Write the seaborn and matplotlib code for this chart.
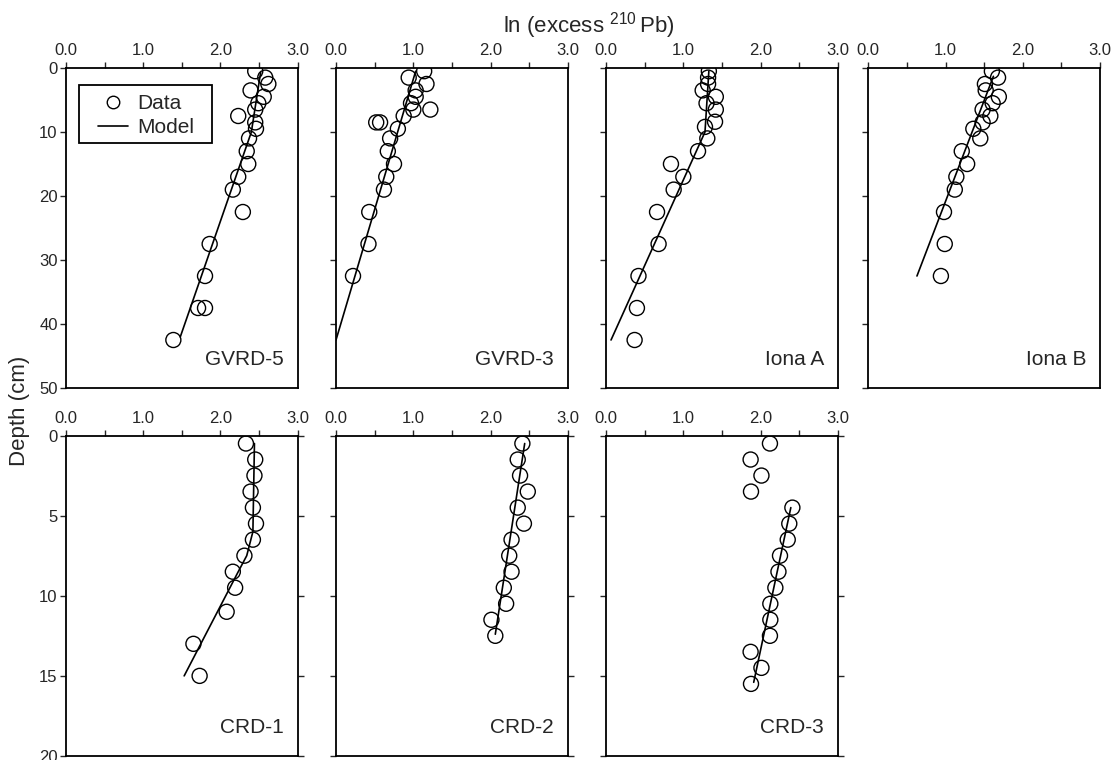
import matplotlib
matplotlib.use("Agg")
import matplotlib.pyplot as plt
from matplotlib.lines import Line2D
from matplotlib.patches import Rectangle
import seaborn as sns

# 1. DATA
# top row cores, depth in cm, ln(excess 210Pb)
gvrd5_depth = [0.5, 1.5, 2.5, 3.5, 4.5, 5.5, 6.5, 7.5, 8.5, 9.5, 11, 13, 15, 17, 19, 22.5, 27.5, 32.5, 37.5, 37.5, 42.5]
gvrd5_lnpb = [2.45, 2.58, 2.62, 2.39, 2.56, 2.49, 2.45, 2.23, 2.45, 2.46, 2.37, 2.34, 2.36, 2.23, 2.16, 2.29, 1.86, 1.80, 1.71, 1.80, 1.39]
gvrd5_model_depth = [0.7, 10, 42]
gvrd5_model_lnpb = [2.52, 2.40, 1.48]

gvrd3_depth = [0.5, 1.5, 2.5, 3.5, 4.5, 5.5, 6.5, 6.5, 7.5, 8.5, 8.5, 9.5, 11, 13, 15, 17, 19, 22.5, 27.5, 32.5]
gvrd3_lnpb = [1.14, 0.94, 1.17, 1.03, 1.03, 0.97, 1.00, 1.22, 0.875, 0.52, 0.57, 0.80, 0.70, 0.67, 0.75, 0.65, 0.62, 0.43, 0.42, 0.22]
gvrd3_model_depth = [0.5, 42.5]
gvrd3_model_lnpb = [1.03, 0.0]

ionaa_depth = [0.5, 1.5, 2.5, 3.5, 4.5, 5.5, 6.5, 8.4, 9.2, 11, 13, 15, 17, 19, 22.5, 27.5, 32.5, 37.5, 42.5]
ionaa_lnpb = [1.33, 1.32, 1.32, 1.25, 1.42, 1.30, 1.42, 1.41, 1.28, 1.31, 1.19, 0.84, 1.00, 0.875, 0.66, 0.68, 0.42, 0.40, 0.37]
ionaa_model_depth = [0.5, 10, 42.5]
ionaa_model_lnpb = [1.33, 1.28, 0.065]

ionab_depth = [0.5, 1.5, 2.5, 3.5, 4.5, 5.5, 6.5, 7.5, 8.5, 9.5, 11, 13, 15, 17, 19, 22.5, 27.5, 32.5]
ionab_lnpb = [1.60, 1.68, 1.51, 1.52, 1.69, 1.61, 1.48, 1.58, 1.48, 1.36, 1.45, 1.21, 1.28, 1.14, 1.12, 0.98, 0.99, 0.94]
ionab_model_depth = [1.3, 32.5]
ionab_model_lnpb = [1.62, 0.63]

# bottom row cores
crd1_depth = [0.5, 1.5, 2.5, 3.5, 4.5, 5.5, 6.5, 7.5, 8.5, 9.5, 11, 13, 15]
crd1_lnpb = [2.33, 2.45, 2.44, 2.39, 2.42, 2.46, 2.42, 2.31, 2.16, 2.19, 2.08, 1.65, 1.73]
crd1_model_depth = [0.5, 6.0, 7.5, 8.5, 15]
crd1_model_lnpb = [2.44, 2.42, 2.34, 2.23, 1.53]

crd2_depth = [0.5, 1.5, 2.5, 3.5, 4.5, 5.5, 6.5, 7.5, 8.5, 9.5, 10.5, 11.5, 12.5]
crd2_lnpb = [2.41, 2.35, 2.38, 2.48, 2.35, 2.43, 2.27, 2.24, 2.27, 2.17, 2.20, 2.01, 2.06]
crd2_model_depth = [0.5, 12.4]
crd2_model_lnpb = [2.44, 2.06]

crd3_depth = [0.5, 1.5, 2.5, 3.5, 4.5, 5.5, 6.5, 7.5, 8.5, 9.5, 10.5, 11.5, 12.5, 13.5, 14.5, 15.5]
crd3_lnpb = [2.12, 1.87, 2.01, 1.875, 2.41, 2.37, 2.35, 2.25, 2.23, 2.19, 2.125, 2.125, 2.12, 1.87, 2.01, 1.875]
crd3_model_depth = [4.5, 15.4]
crd3_model_lnpb = [2.39, 1.91]

x_ticks = [0, 0.5, 1.0, 1.5, 2.0, 2.5, 3.0]
x_tick_labels = ["0.0", "", "1.0", "", "2.0", "", "3.0"]
top_y_ticks = [0, 10, 20, 30, 40, 50]
bottom_y_ticks = [0, 5, 10, 15, 20]

# 2. STYLE
sns.set_style("ticks")
plt.rcParams["font.family"] = ["Liberation Sans", "DejaVu Sans"]
plt.rcParams["mathtext.fontset"] = "custom"
plt.rcParams["mathtext.rm"] = "Liberation Sans"
plt.rcParams["mathtext.it"] = "Liberation Sans:italic"

W, H = 1114, 760
fig = plt.figure(figsize=(W / 100, H / 100), dpi=100)


def rect(x0, x1, y0, y1):
    return [x0 / W, 1 - y1 / H, (x1 - x0) / W, (y1 - y0) / H]


cols = [(66, 297.7), (336, 568), (606, 838), (868.3, 1100)]
top_row = (68, 388)
bottom_row = (435.5, 756)

panels = [
    ("GVRD-5", gvrd5_depth, gvrd5_lnpb, gvrd5_model_depth, gvrd5_model_lnpb, 0, 0),
    ("GVRD-3", gvrd3_depth, gvrd3_lnpb, gvrd3_model_depth, gvrd3_model_lnpb, 0, 1),
    ("Iona A", ionaa_depth, ionaa_lnpb, ionaa_model_depth, ionaa_model_lnpb, 0, 2),
    ("Iona B", ionab_depth, ionab_lnpb, ionab_model_depth, ionab_model_lnpb, 0, 3),
    ("CRD-1", crd1_depth, crd1_lnpb, crd1_model_depth, crd1_model_lnpb, 1, 0),
    ("CRD-2", crd2_depth, crd2_lnpb, crd2_model_depth, crd2_model_lnpb, 1, 1),
    ("CRD-3", crd3_depth, crd3_lnpb, crd3_model_depth, crd3_model_lnpb, 1, 2),
]

# 3. DRAW
axes = []
for name, depth, lnpb, m_depth, m_lnpb, row, col in panels:
    y0, y1 = top_row if row == 0 else bottom_row
    x0, x1 = cols[col]
    ax = fig.add_axes(rect(x0, x1, y0, y1))
    axes.append(ax)

    sns.scatterplot(x=lnpb, y=depth, ax=ax, s=117, marker="o",
                    facecolor="none", edgecolor="black", linewidth=1.0, zorder=3)
    sns.lineplot(x=m_lnpb, y=m_depth, ax=ax, sort=False, estimator=None,
                 color="black", linewidth=1.2, zorder=4)

    ax.set_xlim(0, 3)
    ax.set_xticks(x_ticks)
    ax.set_xticklabels(x_tick_labels)
    ax.xaxis.tick_top()
    if row == 0:
        ax.set_ylim(50, 0)
        ax.set_yticks(top_y_ticks)
    else:
        ax.set_ylim(20, 0)
        ax.set_yticks(bottom_y_ticks)
    if col != 0:
        ax.set_yticklabels([])
    ax.tick_params(axis="x", direction="out", length=4, width=1, labelsize=12,
                   top=True, bottom=False, labeltop=True, labelbottom=False, pad=3)
    ax.tick_params(axis="y", direction="out", length=4, width=1, labelsize=12,
                   pad=2, right=(row == 1))
    ax.set_xlabel("")
    ax.set_ylabel("")
    for sp in ax.spines.values():
        sp.set_visible(True)
        sp.set_linewidth(1.3)
        sp.set_color("black")

    ax.text(0.94, 0.072, name, transform=ax.transAxes, ha="right",
            va="baseline", fontsize=15)

# legend in first panel: square box drawn as a patch, entries inside it
ax0 = axes[0]
ax0.add_patch(Rectangle((0.056, 0.766), 0.574, 0.181, transform=ax0.transAxes,
                        facecolor="white", edgecolor="black", linewidth=1.3,
                        zorder=5))
handles = [
    Line2D([], [], marker="o", linestyle="none", markersize=9,
           markerfacecolor="none", markeredgecolor="black", markeredgewidth=1.0),
    Line2D([], [], color="black", linewidth=1.2),
]
leg = ax0.legend(handles, ["Data", "Model"], loc="upper left",
                 bbox_to_anchor=(0.138, 0.918), borderaxespad=0,
                 fontsize=15, frameon=False, borderpad=0,
                 handlelength=1.44, handletextpad=0.43, labelspacing=0.22)
leg.set_zorder(6)

fig.text(589 / W, 1 - 26 / H, r"ln (excess $^{210}\,$Pb)", ha="center",
         va="center", fontsize=16)
fig.text(20 / W, 1 - 411 / H, "Depth (cm)", rotation=90, ha="center",
         va="center", fontsize=16)

fig.savefig("out.png", dpi=100)
